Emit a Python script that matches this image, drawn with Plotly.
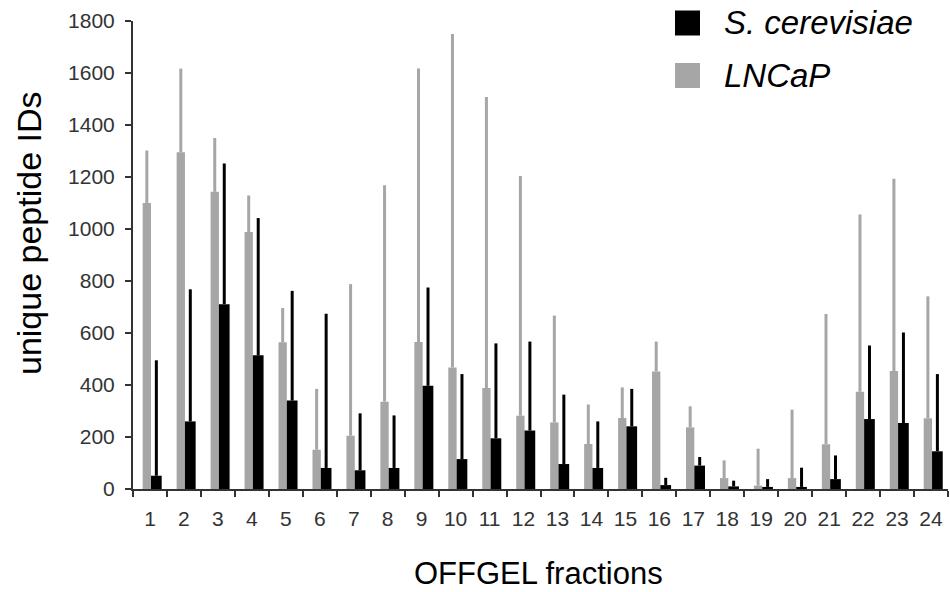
import plotly.graph_objects as go

fractions = [str(i) for i in range(1, 25)]
series_names = ["S. cerevisiae", "LNCaP"]

lncap_values = [1100, 1295, 1143, 988, 564, 151, 205, 336, 565, 467, 388, 282,
                256, 173, 273, 452, 237, 42, 13, 42, 172, 374, 454, 272]
lncap_err_top = [1302, 1617, 1350, 1129, 696, 385, 788, 1168, 1617, 1750, 1508, 1204,
                 667, 325, 391, 567, 318, 110, 155, 305, 673, 1056, 1193, 741]

yeast_values = [51, 260, 711, 514, 340, 81, 72, 81, 397, 115, 195, 225,
                96, 81, 241, 15, 90, 10, 8, 8, 38, 269, 254, 145]
yeast_err_top = [495, 768, 1252, 1042, 762, 674, 291, 283, 775, 442, 560, 567,
                 363, 260, 385, 43, 123, 32, 38, 82, 129, 552, 602, 442]

y_ticks = [0, 200, 400, 600, 800, 1000, 1200, 1400, 1600, 1800]

GRAY = "#a6a6a6"
BLACK = "#000000"
FONT = "Arial, Liberation Sans, sans-serif"

lncap_plus = [t - v for t, v in zip(lncap_err_top, lncap_values)]
yeast_plus = [t - v for t, v in zip(yeast_err_top, yeast_values)]

fig = go.Figure()
fig.add_trace(go.Bar(
    x=fractions, y=lncap_values, name=series_names[1],
    marker=dict(color=GRAY, line=dict(width=0)),
    width=0.245, offset=-0.215,
    error_y=dict(type="data", symmetric=False, array=lncap_plus,
                 arrayminus=[0] * len(lncap_plus), color=GRAY, thickness=3, width=0),
    showlegend=False,
))
fig.add_trace(go.Bar(
    x=fractions, y=yeast_values, name=series_names[0],
    marker=dict(color=BLACK, line=dict(width=0)),
    width=0.315, offset=0.03,
    error_y=dict(type="data", symmetric=False, array=yeast_plus,
                 arrayminus=[0] * len(yeast_plus), color=BLACK, thickness=3, width=0),
    showlegend=False,
))

L, R, T, B = 133, 2, 21, 103
W, H = 950, 592
pw = W - L - R
ph = H - T - B

def px_x(x):
    return (x - L) / pw

def px_y(y):
    return (H - B - y) / ph

shapes = []
annotations = []
legend_items = [(series_names[0], BLACK, 23), (series_names[1], GRAY, 75.5)]
for name, col, yc in legend_items:
    shapes.append(dict(type="rect", xref="paper", yref="paper",
                       x0=px_x(675), x1=px_x(700), y0=px_y(yc + 12.5), y1=px_y(yc - 12.5),
                       fillcolor=col, line=dict(width=0)))
    annotations.append(dict(xref="paper", yref="paper", x=px_x(722), y=px_y(yc),
                            xanchor="left", yanchor="middle", showarrow=False,
                            text="<i>" + name + "</i>",
                            font=dict(family=FONT, size=33, color="#000000")))

annotations.append(dict(xref="paper", yref="paper", x=px_x(538), y=px_y(573),
                        xanchor="center", yanchor="middle", showarrow=False,
                        text="OFFGEL fractions",
                        font=dict(family=FONT, size=31, color="#000000")))
annotations.append(dict(xref="paper", yref="paper", x=px_x(29), y=px_y(233),
                        xanchor="center", yanchor="middle", showarrow=False,
                        textangle=-90, text="unique peptide IDs",
                        font=dict(family=FONT, size=34, color="#000000")))

fig.update_layout(
    width=W, height=H,
    margin=dict(l=L, r=R, t=T, b=B, pad=0),
    paper_bgcolor="white", plot_bgcolor="white",
    barmode="overlay",
    shapes=shapes, annotations=annotations,
    font=dict(family=FONT),
    xaxis=dict(
        type="category", categoryorder="array", categoryarray=fractions,
        tickson="boundaries", ticks="outside", ticklen=6, tickwidth=2, tickcolor="#333333",
        showline=True, linecolor="#333333", linewidth=2,
        showgrid=False, zeroline=False,
        tickfont=dict(family=FONT, size=21, color="#333333"),
        ticklabelstandoff=10,
    ),
    yaxis=dict(
        range=[0, 1800], tickvals=y_ticks, ticktext=[str(v) for v in y_ticks],
        ticks="outside", ticklen=6, tickwidth=2, tickcolor="#333333",
        showline=True, linecolor="#333333", linewidth=2,
        showgrid=False, zeroline=False,
        tickfont=dict(family=FONT, size=21, color="#333333"),
        ticklabelstandoff=6,
    ),
)

fig.write_html(
    "out.html",
    config={"displayModeBar": False},
    post_script="document.body.style.margin='0';document.body.style.overflow='hidden';",
)
